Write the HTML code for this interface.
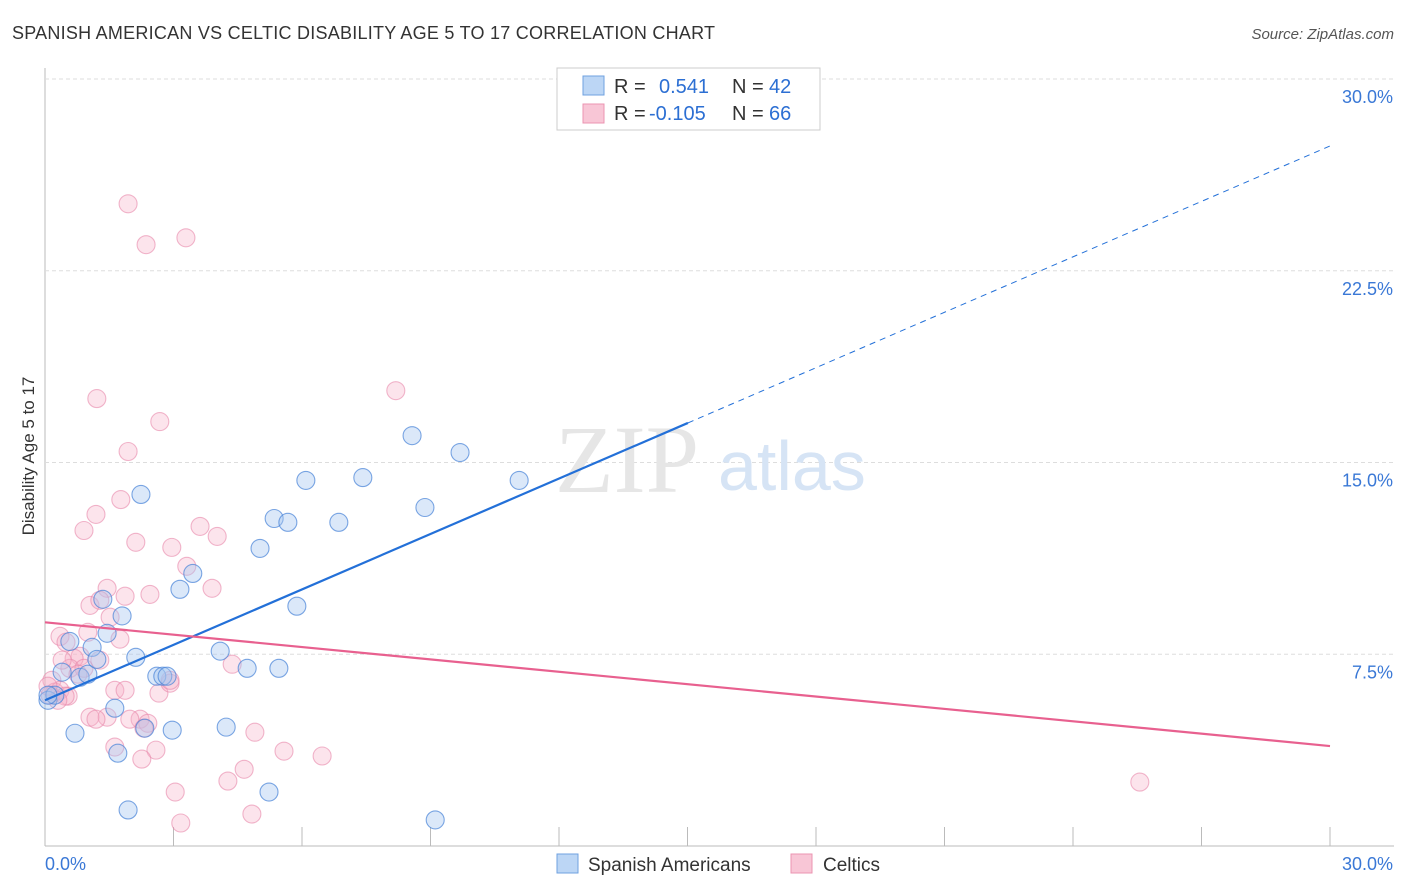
<!DOCTYPE html>
<html><head><meta charset="utf-8"><style>
body{margin:0;background:#fff;font-family:"Liberation Sans",sans-serif;}
svg{display:block}
</style></head><body>
<svg id="chart" width="1406" height="892">
<text x="12" y="39" font-size="18" fill="#333" textLength="703">SPANISH AMERICAN VS CELTIC DISABILITY AGE 5 TO 17 CORRELATION CHART</text>
<text x="1394" y="39" font-size="15" fill="#555" font-style="italic" text-anchor="end">Source: ZipAtlas.com</text>
<text x="34" y="456" font-size="17" fill="#333" text-anchor="middle" transform="rotate(-90 34 456)">Disability Age 5 to 17</text>
<g id="grid"></g>
<text x="555" y="492" font-size="96" fill="#e6e6e6" font-family="Liberation Serif,serif">ZIP</text>
<text x="718" y="490" font-size="70" fill="#d6e4f5">atlas</text>
<g id="pts"></g>
<g id="lines"></g>
<g>
<rect x="557" y="68" width="263" height="62" fill="#fff" stroke="#ccc"/>
<rect x="583" y="76" width="21" height="19" fill="#bcd6f5" stroke="#6fa1e0"/>
<rect x="583" y="104" width="21" height="19" fill="#f8c6d6" stroke="#eb94b1"/>
<text x="614" y="93" font-size="20" fill="#333">R =</text>
<text x="659" y="93" font-size="20" fill="#2c6fd3">0.541</text>
<text x="732" y="93" font-size="20" fill="#333">N =</text>
<text x="769" y="93" font-size="20" fill="#2c6fd3">42</text>
<text x="614" y="120" font-size="20" fill="#333">R =</text>
<text x="649" y="120" font-size="20" fill="#2c6fd3">-0.105</text>
<text x="732" y="120" font-size="20" fill="#333">N =</text>
<text x="769" y="120" font-size="20" fill="#2c6fd3">66</text>
</g>
<g>
<rect x="557" y="854" width="21" height="19" fill="#bcd6f5" stroke="#6fa1e0"/>
<text x="588" y="871" font-size="19" fill="#333">Spanish Americans</text>
<rect x="791" y="854" width="21" height="19" fill="#f8c6d6" stroke="#eb94b1"/>
<text x="823" y="871" font-size="19" fill="#333">Celtics</text>
</g>
</svg>
<script>
const yTicks=[7.5,15,22.5,30];
const yTickLabels=["7.5%","15.0%","22.5%","30.0%"];
const xTickLabels=["0.0%","30.0%"];
const blueX=[0.07,0.23,0.4,0.58,0.7,0.82,1.0,1.1,1.21,1.35,1.45,1.63,1.7,1.8,1.94,2.12,2.24,2.33,2.61,2.75,2.85,2.97,3.15,3.45,4.09,4.23,4.72,5.02,5.23,5.35,5.46,5.67,5.88,6.09,6.86,7.42,8.57,8.87,9.11,9.69,11.07,0.07];
const blueY=[5.7,5.9,6.8,8.0,4.41,6.6,6.72,7.77,7.3,9.65,8.32,5.39,3.63,9.0,1.41,7.38,13.75,4.61,6.64,6.64,6.64,4.53,10.04,10.66,7.62,4.65,6.95,11.64,2.11,12.81,6.95,12.66,9.38,14.3,12.66,14.41,16.05,13.24,1.02,15.39,14.3,5.9];
const pinkX=[1.94,2.36,3.29,1.21,2.68,8.19,1.94,1.77,1.19,0.91,2.12,2.96,3.62,4.02,3.31,1.45,2.45,3.9,1.05,1.87,1.28,1.52,0.35,1.75,0.49,0.82,0.68,0.58,0.91,0.16,0.23,0.35,0.12,0.54,1.63,1.87,2.66,2.92,4.37,2.22,2.4,1.98,1.45,1.05,1.19,1.63,2.59,2.26,4.9,4.65,4.27,3.04,5.58,6.47,4.83,3.17,25.56,0.47,0.77,0.3,1.28,2.31,2.92,0.07,0.40,1.0];
const pinkY=[25.12,23.52,23.79,17.5,16.6,17.81,15.43,13.55,12.97,12.34,11.88,11.68,12.5,12.11,10.94,10.08,9.84,10.08,9.41,9.77,9.61,8.95,8.2,8.09,7.97,7.42,7.34,6.95,6.95,6.48,6.02,6.09,5.9,5.86,6.09,6.09,5.98,6.37,7.11,4.96,4.8,4.96,5.04,5.04,4.96,3.87,3.75,3.4,4.45,3.0,2.54,2.11,3.71,3.52,1.25,0.9,2.5,5.86,6.72,5.7,7.27,4.61,6.48,6.25,7.27,8.36];
const blueLine=[5.7,27.38], blueSolidEnd=15.01;
const pinkLine=[8.75,3.91];
const NS="http://www.w3.org/2000/svg";
const X0=45,X1=1330,Y0=846,Y1=79;
function sx(v){return X0+(v/30)*(X1-X0);}
function sy(v){return Y0-(v/30)*(Y0-Y1);}
function mk(t,a,p){const e=document.createElementNS(NS,t);for(const k in a)e.setAttribute(k,a[k]);p.appendChild(e);return e;}
const grid=document.getElementById('grid');
mk('line',{x1:X0,y1:68,x2:X0,y2:Y0,stroke:'#bbb'},grid);
mk('line',{x1:X0,y1:Y0,x2:1394,y2:Y0,stroke:'#bbb'},grid);
for(let i=1;i<=10;i++){const x=X0+i*(X1-X0)/10;const l=mk('line',{x1:x,y1:Y0,x2:x,y2:827,stroke:'#bbb'},grid);

}
yTicks.forEach((v,i)=>{const y=sy(v);
const l=mk('line',{x1:X0,y1:y,x2:1394,y2:y,stroke:'#ddd','stroke-dasharray':'4,3'},grid);


const t=mk('text',{x:1393,y:y+24,'font-size':18,fill:'#3a78d6','text-anchor':'end'},grid);t.textContent=yTickLabels[i];

});
[[45,'start'],[1393,'end']].forEach((p,i)=>{const t=mk('text',{x:p[0],y:870,'font-size':18,fill:'#3a78d6','text-anchor':p[1]},grid);t.textContent=xTickLabels[i];

});
const pts=document.getElementById('pts');
pinkX.forEach((v,i)=>{const c=mk('circle',{cx:sx(v),cy:sy(pinkY[i]),r:9,fill:'rgba(246,178,200,0.35)',stroke:'rgba(232,135,170,0.6)','stroke-width':1.1},pts);

});
blueX.forEach((v,i)=>{const c=mk('circle',{cx:sx(v),cy:sy(blueY[i]),r:9,fill:'rgba(165,198,240,0.4)',stroke:'rgba(70,130,215,0.7)','stroke-width':1.1},pts);

});
const lines=document.getElementById('lines');
function by(x){return blueLine[0]+(blueLine[1]-blueLine[0])*x/30;}
let l=mk('line',{x1:sx(0),y1:sy(by(0)),x2:sx(blueSolidEnd),y2:sy(by(blueSolidEnd)),stroke:'#2370d8','stroke-width':2.2},lines);


l=mk('line',{x1:sx(blueSolidEnd),y1:sy(by(blueSolidEnd)),x2:sx(30),y2:sy(by(30)),stroke:'#2370d8','stroke-width':1,'stroke-dasharray':'6,5'},lines);


l=mk('line',{x1:sx(0),y1:sy(pinkLine[0]),x2:sx(30),y2:sy(pinkLine[1]),stroke:'#e8608f','stroke-width':2.2},lines);


</script>
</body></html>
